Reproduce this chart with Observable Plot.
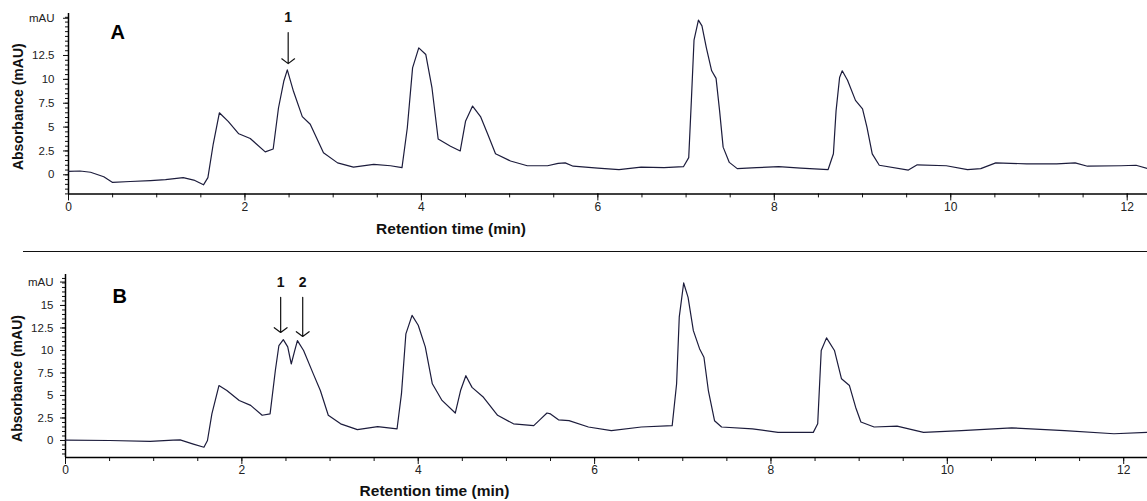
<!DOCTYPE html>
<html>
<head>
<meta charset="utf-8">
<script src="https://cdn.jsdelivr.net/npm/d3@7"></script>
<script src="https://cdn.jsdelivr.net/npm/@observablehq/plot@0.6"></script>
<style>
  html, body { margin: 0; padding: 0; background: #fff; }
  #wrap { position: relative; width: 1147px; height: 501px; overflow: hidden; background: #fff; }
  #panelA { position: absolute; left: 0; top: 0; }
  #panelB { position: absolute; left: 0; top: 250px; }
  #sep { position: absolute; left: 23px; top: 251px; width: 1124px; height: 0; border-top: 1.5px solid #111; }
</style>
</head>
<body>
<div id="wrap">
  <div id="panelA"></div>
  <div id="sep"></div>
  <div id="panelB"></div>
</div>
<script>
// ---- Data ----
// Retention time (min), absorbance (mAU)
const traceA = [
  [0.00,0.35],[0.13,0.40],[0.25,0.27],[0.40,-0.2],[0.50,-0.8],[0.70,-0.7],[0.93,-0.6],[1.10,-0.5],
  [1.30,-0.3],[1.42,-0.55],[1.53,-1.05],[1.58,-0.3],[1.64,3.2],[1.71,6.5],[1.81,5.6],[1.93,4.3],
  [2.06,3.8],[2.23,2.4],[2.32,2.7],[2.38,7.0],[2.44,9.8],[2.48,11.0],[2.55,8.75],[2.65,6.1],
  [2.74,5.3],[2.89,2.3],[3.05,1.25],[3.23,0.8],[3.46,1.1],[3.65,0.95],[3.78,0.75],[3.84,4.9],
  [3.90,11.2],[3.97,13.3],[4.05,12.6],[4.12,9.1],[4.19,3.75],[4.33,3.0],[4.44,2.5],[4.50,5.6],
  [4.58,7.2],[4.67,6.1],[4.75,4.3],[4.84,2.2],[5.01,1.45],[5.20,0.95],[5.43,0.95],[5.55,1.2],
  [5.63,1.25],[5.72,0.9],[6.00,0.7],[6.24,0.55],[6.49,0.8],[6.75,0.75],[6.97,0.85],[7.03,1.8],
  [7.06,7.8],[7.09,14.1],[7.14,16.2],[7.18,15.6],[7.23,13.3],[7.29,10.9],[7.34,10.1],[7.38,6.7],
  [7.42,2.9],[7.49,1.3],[7.58,0.65],[7.80,0.75],[8.05,0.85],[8.30,0.7],[8.61,0.55],[8.67,2.2],
  [8.70,6.7],[8.74,10.2],[8.77,10.9],[8.83,9.9],[8.92,7.8],[9.00,6.9],[9.05,5.0],[9.11,2.2],
  [9.19,1.0],[9.52,0.5],[9.62,1.05],[9.95,0.95],[10.19,0.55],[10.34,0.65],[10.51,1.25],[10.86,1.15],
  [11.20,1.15],[11.41,1.25],[11.55,0.9],[11.93,0.95],[12.10,1.0],[12.23,0.65]
];
const traceB = [
  [0.00,0.05],[0.50,0.0],[0.96,-0.1],[1.22,0.05],[1.30,0.07],[1.45,-0.4],[1.57,-0.75],[1.61,0.0],
  [1.66,2.95],[1.74,6.1],[1.83,5.55],[1.97,4.45],[2.10,3.9],[2.23,2.8],[2.32,2.95],[2.38,7.8],
  [2.42,10.55],[2.47,11.2],[2.52,10.4],[2.56,8.5],[2.60,10.0],[2.63,11.1],[2.70,10.0],[2.81,7.4],
  [2.89,5.55],[2.98,2.8],[3.12,1.85],[3.31,1.2],[3.54,1.55],[3.76,1.3],[3.81,5.2],[3.86,11.85],
  [3.93,13.9],[4.00,12.8],[4.08,10.4],[4.16,6.3],[4.27,4.45],[4.42,3.05],[4.48,5.55],[4.54,7.2],
  [4.61,5.9],[4.74,4.8],[4.90,2.8],[5.08,1.85],[5.31,1.65],[5.39,2.4],[5.46,3.05],[5.50,2.95],
  [5.59,2.3],[5.71,2.2],[5.93,1.5],[6.19,1.1],[6.53,1.5],[6.88,1.65],[6.93,6.3],[6.96,13.7],
  [7.01,17.5],[7.06,15.9],[7.12,12.2],[7.19,10.2],[7.24,9.25],[7.29,5.55],[7.36,2.2],[7.44,1.5],
  [7.79,1.3],[8.08,0.9],[8.48,0.9],[8.53,1.85],[8.57,10.0],[8.63,11.4],[8.72,10.0],[8.80,6.85],
  [8.89,6.1],[8.96,3.7],[9.02,2.05],[9.17,1.5],[9.43,1.6],[9.73,0.9],[10.16,1.1],[10.73,1.4],
  [11.33,1.1],[11.89,0.75],[12.27,0.9]
];
// Peak annotations: label, time (min), arrow top and tip (mAU)
const peaksA = [{label: "1", time: 2.49, top: 14.9, tip: 11.65, text: 16.5}];
const peaksB = [
  {label: "1", time: 2.44, top: 15.9, tip: 12.0, text: 17.5},
  {label: "2", time: 2.69, top: 15.9, tip: 11.55, text: 17.5}
];
const xTickLabels = [0, 2, 4, 6, 8, 10, 12];
const xMinorTicks = d3.range(0, 12.5, 0.5);
const yTicksA = [0, 2.5, 5, 7.5, 10, 12.5];
const yTicksB = [0, 2.5, 5, 7.5, 10, 12.5, 15];
const unitLabel = "mAU";
const unitPosA = 16.4;
const unitPosB = 17.6;
const xTitle = "Retention time (min)";
const yTitle = "Absorbance (mAU)";

function panel(cfg) {
  const [y0, y1] = cfg.yDomain;
  const yMinor = d3.range(Math.ceil(y0 * 2) / 2, y1, 0.5);
  return Plot.plot({
    width: 1147,
    height: cfg.height,
    marginLeft: cfg.marginLeft,
    marginRight: 0,
    marginTop: cfg.marginTop,
    marginBottom: cfg.marginBottom,
    style: {fontFamily: "'Liberation Sans', Arial, sans-serif", fontSize: "11.5px", color: "#222", background: "transparent"},
    x: {domain: cfg.xDomain},
    y: {domain: cfg.yDomain},
    marks: [
      // minor ticks
      Plot.axisX({ticks: xMinorTicks, tickSize: 4, tickFormat: () => "", label: null, stroke: "#111"}),
      Plot.axisY({ticks: yMinor, tickSize: 3, tickFormat: () => "", label: null, stroke: "#111"}),
      // major ticks
      Plot.axisX({ticks: xTickLabels, tickSize: 7, tickPadding: cfg.xPad, fontSize: 12, fill: "#222", label: null, stroke: "#111"}),
      Plot.axisY({ticks: [...cfg.yTicks, cfg.unitPos], tickSize: 5, tickPadding: cfg.yPad, fontSize: 11.5, fill: "#222",
        tickFormat: d => d === cfg.unitPos ? unitLabel : String(d), label: null, stroke: "#111"}),
      // axis lines
      Plot.ruleY([y0], {stroke: "#000", strokeWidth: 1.5}),
      Plot.ruleX([0], {stroke: "#000", strokeWidth: 1.5}),
      // chromatogram
      Plot.line(cfg.trace, {x: d => d[0], y: d => d[1], stroke: "#1c1c3c", strokeWidth: 1.2}),
      // peak arrows and labels
      Plot.arrow(cfg.peaks, {x1: "time", x2: "time", y1: "top", y2: "tip", stroke: "#111", strokeWidth: 1.2,
        headAngle: 106, headLength: 10}),
      Plot.text(cfg.peaks, {x: "time", y: "text", text: "label", fontSize: 14, fontWeight: "bold", fill: "#111"}),
      // panel letter
      Plot.text([cfg.letter], {frameAnchor: "top-left", dx: cfg.letterDx, dy: cfg.letterDy, textAnchor: "start",
        lineAnchor: "middle", fontSize: 20, fontWeight: "bold", fill: "#000"}),
      // axis titles
      Plot.text([xTitle], {frameAnchor: "bottom", dx: cfg.xTitleDx, dy: cfg.xTitleDy, lineAnchor: "middle",
        fontSize: 15.5, fontWeight: "bold", fill: "#111"}),
      Plot.text([yTitle], {frameAnchor: "left", dx: cfg.yTitleDx, dy: cfg.yTitleDy, rotate: -90,
        textAnchor: "middle", lineAnchor: "middle", fontSize: 14, fontWeight: "bold", fill: "#111"})
    ]
  });
}

document.getElementById("panelA").append(panel({
  trace: traceA, peaks: peaksA, letter: "A",
  height: 250, marginLeft: 68, marginTop: 13, marginBottom: 56.6,
  xDomain: [0, 12.23], yDomain: [-2.0, 16.9],
  yTicks: yTicksA, unitPos: unitPosA,
  xPad: 2, yPad: 9,
  letterDx: 42, letterDy: 19,
  xTitleDx: -157, xTitleDy: 35,
  yTitleDx: -50, yTitleDy: 3
}));

document.getElementById("panelB").append(panel({
  trace: traceB, peaks: peaksB, letter: "B",
  height: 251, marginLeft: 65, marginTop: 24, marginBottom: 44,
  xDomain: [0, 12.27], yDomain: [-1.89, 18.44],
  yTicks: yTicksB, unitPos: unitPosB,
  xPad: 1, yPad: 7,
  letterDx: 47, letterDy: 22.5,
  xTitleDx: -172, xTitleDy: 34,
  yTitleDx: -48, yTitleDy: 12.5
}));
</script>
</body>
</html>
